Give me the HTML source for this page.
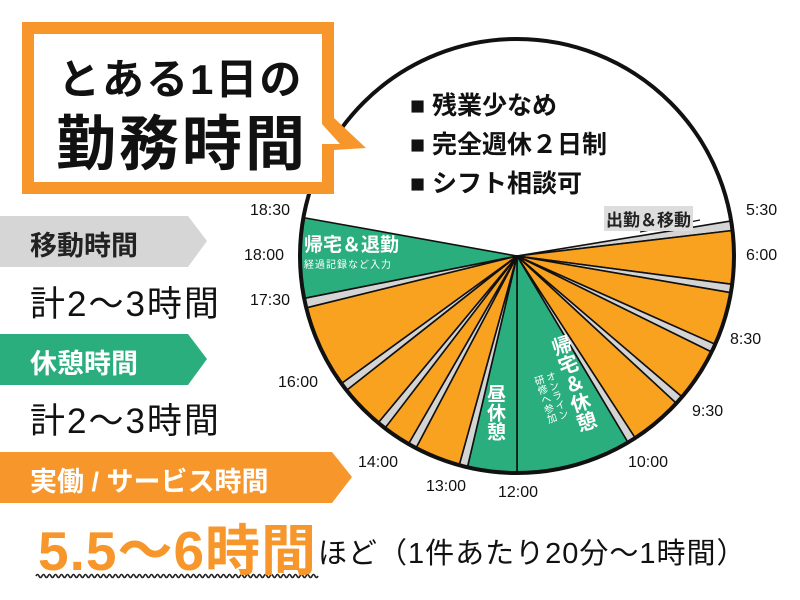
<!DOCTYPE html>
<html><head><meta charset="utf-8">
<style>
body{margin:0;width:800px;height:600px;background:#fff;overflow:hidden;position:relative;font-family:"Liberation Sans","Noto Sans CJK JP",sans-serif;}
.a{position:absolute;white-space:nowrap;}
</style></head><body>
<svg id="s" width="800" height="600" style="position:absolute;left:0;top:0">
  <g id="pie"></g>
  <!-- title bubble -->
  <polygon points="22,22 334,22 334,118 366,148 334,150 334,194 22,194" fill="#F7962B"/>
  <polygon points="34,34 322,34 322,124 340,144 322,144 322,182 34,182" fill="#fff"/>
  <!-- banners -->
  <polygon points="0,216 188,216 207,241 188,267 0,267" fill="#D6D6D6"/>
  <polygon points="0,334 188,334 207,359 188,385 0,385" fill="#2BAE7E"/>
  <polygon points="0,452 332,452 352,477 332,503 0,503" fill="#F7962B"/>
  <path id="wave" fill="none" stroke="#222" stroke-width="1.6"/>
</svg>
<div class="a" style="left:58px;top:46px;font-size:42px;font-weight:bold;color:#111;letter-spacing:2px">とある1日の</div>
<div class="a" style="left:56px;top:96px;font-size:60px;font-weight:bold;color:#111;letter-spacing:3px">勤務時間</div>

<div class="a" style="left:410px;top:86px;font-size:25px;font-weight:bold;color:#111">■ 残業少なめ</div>
<div class="a" style="left:410px;top:125px;font-size:25px;font-weight:bold;color:#111">■ 完全週休２日制</div>
<div class="a" style="left:410px;top:164px;font-size:25px;font-weight:bold;color:#111">■ シフト相談可</div>

<div class="a" style="left:30px;top:224px;font-size:27px;font-weight:bold;color:#222">移動時間</div>
<div class="a" style="left:30px;top:276px;font-size:35px;color:#111;letter-spacing:2px">計2～3時間</div>
<div class="a" style="left:30px;top:342px;font-size:27px;font-weight:bold;color:#fff">休憩時間</div>
<div class="a" style="left:30px;top:393px;font-size:35px;color:#111;letter-spacing:2px">計2～3時間</div>
<div class="a" style="left:30px;top:460px;font-size:27px;font-weight:bold;color:#fff">実働 / サービス時間</div>
<div class="a" style="left:38px;top:506px;font-size:55px;font-weight:bold;color:#F7962B;letter-spacing:1px">5.5～6時間</div>
<div class="a" style="left:318px;top:530px;font-size:29px;color:#111;letter-spacing:1px">ほど（1件あたり20分～1時間）</div>

<div class="a" style="left:304px;top:230px;font-size:19px;font-weight:bold;color:#fff">帰宅＆退勤</div>
<div class="a" style="left:304px;top:256px;font-size:10px;color:#fff;letter-spacing:1px">経過記録など入力</div>
<div class="a" style="left:604px;top:206px;font-size:17px;font-weight:bold;color:#222;background:#ddd;padding:0 2px">出勤＆移動</div>
<div class="a" style="left:484px;top:384px;font-size:19px;font-weight:bold;color:#fff;writing-mode:vertical-rl;line-height:20px">昼休憩</div>
<div class="a" style="left:546px;top:340px;font-size:20px;font-weight:bold;color:#fff;writing-mode:vertical-rl;transform:rotate(-18deg);transform-origin:top left;line-height:22px">帰宅＆休憩</div>
<div class="a" style="left:530px;top:378px;font-size:10px;color:#fff;writing-mode:vertical-rl;transform:rotate(-18deg);transform-origin:top left;line-height:12px">オンライン<br>研修へ参加</div>

<div class="a" style="left:250px;top:202px;font-size:16px;color:#111">18:30</div>
<div class="a" style="left:244px;top:247px;font-size:16px;color:#111">18:00</div>
<div class="a" style="left:250px;top:292px;font-size:16px;color:#111">17:30</div>
<div class="a" style="left:278px;top:374px;font-size:16px;color:#111">16:00</div>
<div class="a" style="left:358px;top:454px;font-size:16px;color:#111">14:00</div>
<div class="a" style="left:426px;top:478px;font-size:16px;color:#111">13:00</div>
<div class="a" style="left:498px;top:484px;font-size:16px;color:#111">12:00</div>
<div class="a" style="left:628px;top:454px;font-size:16px;color:#111">10:00</div>
<div class="a" style="left:692px;top:403px;font-size:16px;color:#111">9:30</div>
<div class="a" style="left:730px;top:331px;font-size:16px;color:#111">8:30</div>
<div class="a" style="left:746px;top:247px;font-size:16px;color:#111">6:00</div>
<div class="a" style="left:746px;top:202px;font-size:16px;color:#111">5:30</div>

<script>
var cx=517,cy=256,r=217,O="#F9A21F",G="#2BAE7E",Y="#D4D4D4";
var sl=[[5.38,5.55,Y],[5.55,6.5,O],[6.5,6.65,Y],[6.65,7.6,O],[7.6,7.75,Y],[7.75,8.7,O],[8.7,8.85,Y],[8.85,9.8,O],[9.8,9.95,Y],[9.95,12,G],[12,12.88,G],[12.88,13.03,Y],[13.03,13.85,O],[13.85,14,Y],[14,14.5,O],[14.5,14.65,Y],[14.65,15.45,O],[15.45,15.6,Y],[15.6,17.08,O],[17.08,17.25,Y],[17.25,18.68,G]];
function p(t){var a=t*15*Math.PI/180;return [(cx+r*Math.sin(a)).toFixed(1),(cy-r*Math.cos(a)).toFixed(1)];}
var h='<circle cx="'+cx+'" cy="'+cy+'" r="'+r+'" fill="#fff"/>';
sl.forEach(function(s){var a=p(s[0]),b=p(s[1]);var lg=(s[1]-s[0])*15>180?1:0;
h+='<path d="M'+cx+','+cy+' L'+a+' A'+r+','+r+' 0 '+lg+' 1 '+b+' Z" fill="'+s[2]+'" stroke="#111" stroke-width="1.6" stroke-linejoin="round"/>';});
h+='<circle cx="'+cx+'" cy="'+cy+'" r="'+r+'" fill="none" stroke="#111" stroke-width="4"/>';
h+='<line x1="640" y1="232" x2="700" y2="220" stroke="#111" stroke-width="1.2"/>';
document.getElementById('pie').innerHTML=h;
var d='M36,576';for(var x=36;x<316;x+=6){d+=' q1.5,-3 3,0 t3,0';}
document.getElementById('wave').setAttribute('d',d);
</script>
</body></html>
